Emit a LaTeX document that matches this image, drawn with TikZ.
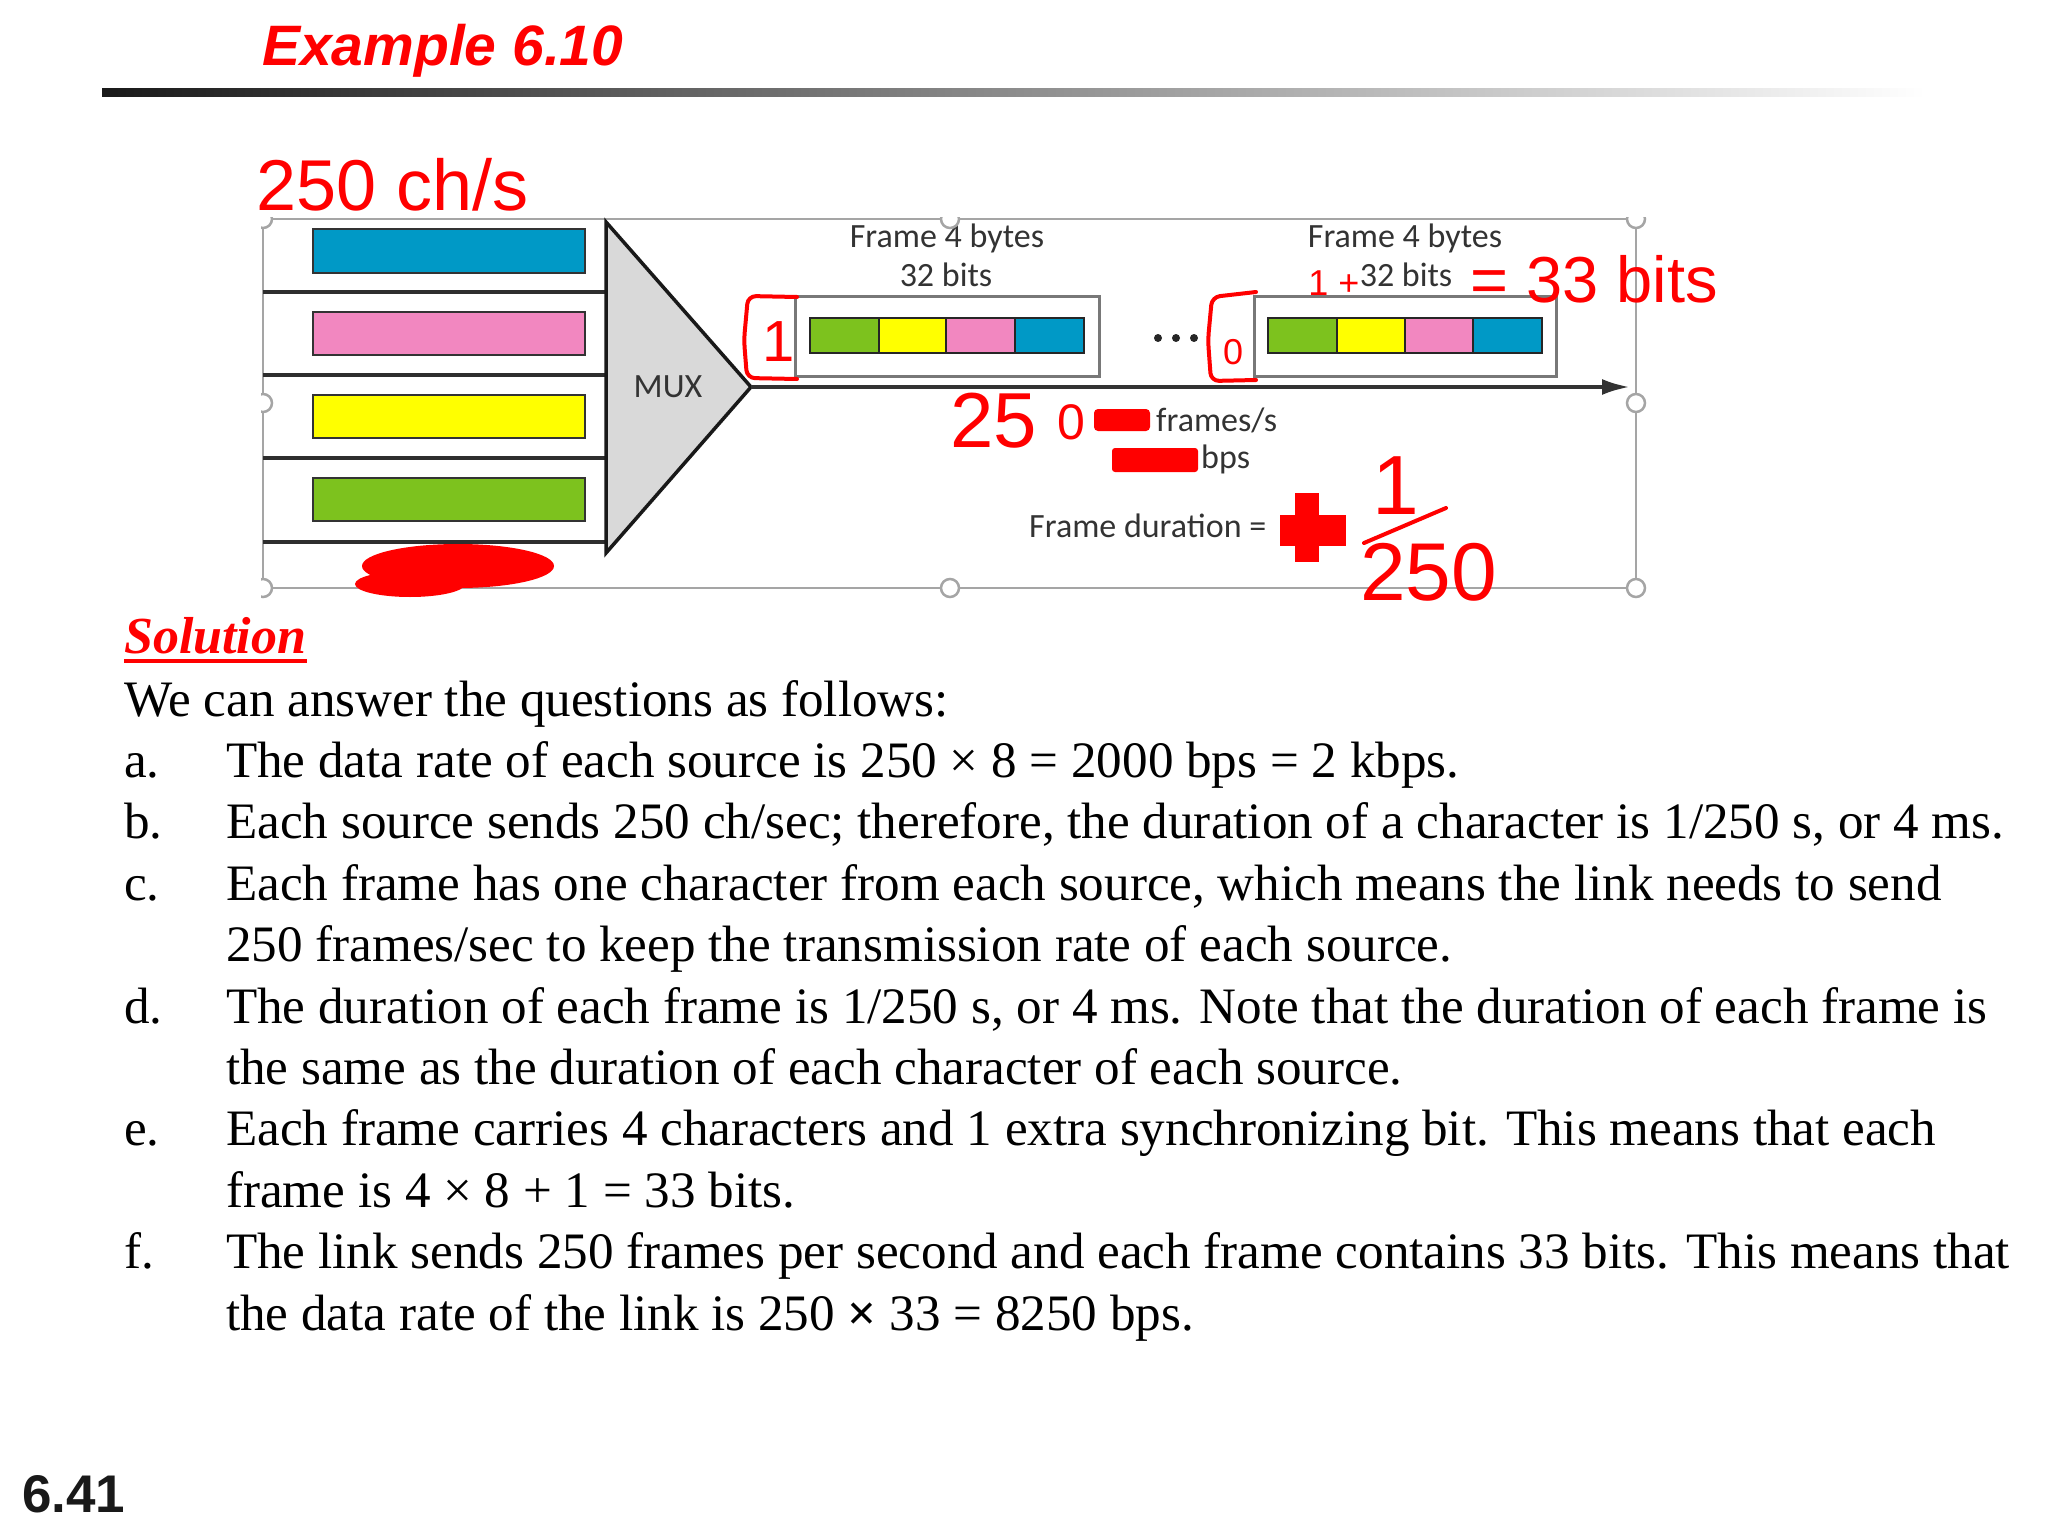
\documentclass[tikz,border=0pt]{standalone}
\usepackage{fontspec}
\setmainfont{Liberation Serif}
\newfontfamily\sansf{Liberation Sans}
\newfontfamily\diagf{Carlito}
\usetikzlibrary{arrows.meta,calc}
\definecolor{cblue}{RGB}{0,153,198}
\definecolor{cpink}{RGB}{242,135,192}
\definecolor{cyel}{RGB}{255,255,0}
\definecolor{cgreen}{RGB}{125,194,30}
\definecolor{muxgray}{RGB}{217,217,217}
\definecolor{txtgray}{RGB}{51,51,51}
\definecolor{inkred}{RGB}{255,0,0}
\definecolor{boxgray}{RGB}{165,165,165}
\definecolor{fgray}{RGB}{120,120,120}
\begin{document}
\begin{tikzpicture}[x=1pt,y=-1pt,
  body/.style={anchor=base west,inner sep=0,font=\fontsize{51.1}{60}\selectfont},
  dtext/.style={inner sep=0,text=txtgray,font=\diagf\fontsize{34}{40}\selectfont},
  hand/.style={inner sep=0,text=inkred,font=\sansf\fontsize{#1}{#1}\selectfont},
  hand/.default=60,
  srcbar/.style={draw=txtgray,line width=2.5},
  rowline/.style={draw=txtgray!90!black,line width=4},
  fbox/.style={draw=fgray,fill=white,line width=3,inner sep=0,minimum height=80},
  seg/.style={draw=black!85,line width=2.5},
  handlecirc/.style={draw=boxgray,fill=white,line width=2.5},
  ink/.style={draw=inkred,line width=4,line cap=round,line join=round}]
\useasboundingbox (0,0) rectangle (2048,1536);

% title and rule
\node[anchor=base west,inner sep=0,text=inkred,font=\sansf\bfseries\itshape\fontsize{57}{60}\selectfont] (title) at (262,66) {Example 6.10};
\shade[left color=black!90,right color=white,middle color=black!45] (102,89) rectangle (1925,97);

% diagram frame
\draw[boxgray,line width=2] (263,219) rectangle (1636,588);

% sources
\draw[rowline] (263,292) -- (606,292);
\draw[rowline] (263,375) -- (606,375);
\draw[rowline] (263,458) -- (606,458);
\draw[rowline] (263,542) -- (606,542);
\filldraw[srcbar,fill=cblue]  (313,229) rectangle (585,273);
\filldraw[srcbar,fill=cpink]  (313,312) rectangle (585,355);
\filldraw[srcbar,fill=cyel]   (313,395) rectangle (585,438);
\filldraw[srcbar,fill=cgreen] (313,478) rectangle (585,521);

% MUX
\filldraw[fill=muxgray,draw=black!90,line width=3.5,line join=miter] (606,222) -- (751,387) -- (606,553) -- cycle;
\node[dtext] (mux) at (668,387) {MUX};
\coordinate (muxtip) at (751,387);
\coordinate (linkend) at (1630,387);
\draw[txtgray,line width=4,-{Latex[length=28pt,width=16pt]}] (muxtip) -- (linkend);

% frames
\node[fbox,minimum width=304] (f1) at (947,336) {};
\node[fbox,minimum width=302] (f2) at (1405,336) {};
\filldraw[seg,fill=cgreen] (810,318) rectangle (879,353);
\filldraw[seg,fill=cyel]   (879,318) rectangle (946,353);
\filldraw[seg,fill=cpink]  (946,318) rectangle (1015,353);
\filldraw[seg,fill=cblue]  (1015,318) rectangle (1084,353);
\filldraw[seg,fill=cgreen] (1268,318) rectangle (1337,353);
\filldraw[seg,fill=cyel]   (1337,318) rectangle (1405,353);
\filldraw[seg,fill=cpink]  (1405,318) rectangle (1473,353);
\filldraw[seg,fill=cblue]  (1473,318) rectangle (1542,353);
\node[dtext,anchor=base] (f1a) at (947,247) {Frame 4 bytes};
\node[dtext,anchor=base] (f1b) at (946,286) {32 bits};
\node[dtext,anchor=base] (f2a) at (1405,247) {Frame 4 bytes};
\node[dtext,anchor=base] (f2b) at (1406,286) {32 bits};
\fill[black!85] (1158,338) circle[radius=4] (1176,338) circle[radius=4] (1194,338) circle[radius=4];

\node[dtext,anchor=base west] (fps) at (1156,431) {frames/s};
\node[dtext,anchor=base west] (bps) at (1201,468) {bps};
\node[dtext,anchor=base west] (fdur) at (1029,537) {Frame duration =};

% selection handles
\begin{scope}
\clip (261,217) rectangle (1700,620);
\foreach \p in {(263,219),(950,219),(1636,219),(263,403),(1636,403),(263,588),(950,588),(1636,588)}
  \filldraw[handlecirc] \p circle[radius=9];
\end{scope}

% red censor marks
\fill[inkred] (458,566) ellipse[x radius=96,y radius=22];
\fill[inkred] (410,584) ellipse[x radius=55,y radius=13];
\fill[inkred,rounded corners=4] (1094,409) rectangle (1150,431);
\fill[inkred,rounded corners=3] (1112,448) rectangle (1198,472);
\fill[inkred] (1295,493) rectangle (1319,562);
\fill[inkred] (1280,515) rectangle (1346,546);

% red handwriting
\node[hand=72,anchor=base west] (h250) at (256,210) {250 ch/s};
\draw[ink,rounded corners=8] (797,297) -- (748,296) -- (744,340) -- (747,378) -- (797,379);
\node[hand=58] (hone) at (779,342) {1};
\draw[ink,rounded corners=8] (1256,292) -- (1212,297) -- (1208,340) -- (1211,381) -- (1256,380);
\node[hand=36] (hzero) at (1233,352) {0};
\node[hand=78,anchor=base west] (h25) at (950,447) {25};
\node[hand=50,anchor=base west] (hz2) at (1057,439) {0};
\node[hand=36] (hplus) at (1334,283) {1 +};
\node[hand=65,anchor=base west] (h33) at (1470,302) {= 33 bits};
\node[hand=84] (hnum) at (1396,486) {1};
\draw[ink] (1364,543) -- (1446,508);
\node[hand=82,anchor=base west] (hden) at (1360,600) {250};

% solution
\node[anchor=base west,inner sep=0,text=inkred,font=\bfseries\itshape\fontsize{52}{60}\selectfont] (sol) at (124,653) {Solution};
\draw[inkred,line width=4] ([yshift=-8pt]sol.base west) -- ([yshift=-8pt]sol.base east);

\node[body] (intro) at (124,716) {We can answer the questions as follows:};
\node[body] (la) at (124,777.4) {a.};
\node[body] (ta) at (226,777.4) {The data rate of each source is 250 × 8 = 2000 bps = 2 kbps.};
\node[body] (lb) at (124,838.8) {b.};
\node[body] (tb) at (226,838.8) {Each source sends 250 ch/sec; therefore, the duration of a character is 1/250 s, or 4 ms.};
\node[body] (lc) at (124,900.2) {c.};
\node[body] (tc) at (226,900.2) {Each frame has one character from each source, which means the link needs to send};
\node[body] (tc2) at (226,961.6) {250 frames/sec to keep the transmission rate of each source.};
\node[body] (ld) at (124,1023) {d.};
\node[body] (td) at (226,1023) {The duration of each frame is 1/250 s, or 4 ms. Note that the duration of each frame is};
\node[body] (td2) at (226,1084.4) {the same as the duration of each character of each source.};
\node[body] (le) at (124,1145.8) {e.};
\node[body] (te) at (226,1145.8) {Each frame carries 4 characters and 1 extra synchronizing bit. This means that each};
\node[body] (te2) at (226,1207.2) {frame is 4 × 8 + 1 = 33 bits.};
\node[body] (lf) at (124,1268.6) {f.};
\node[body] (tf) at (226,1268.6) {The link sends 250 frames per second and each frame contains 33 bits. This means that};
\node[body] (tf2) at (226,1330) {the data rate of the link is 250 \textbf{×} 33 = 8250 bps.};

\node[anchor=base west,inner sep=0,text=black!90,font=\sansf\bfseries\fontsize{53}{60}\selectfont] (pnum) at (22,1512) {6.41};
\end{tikzpicture}
\end{document}
